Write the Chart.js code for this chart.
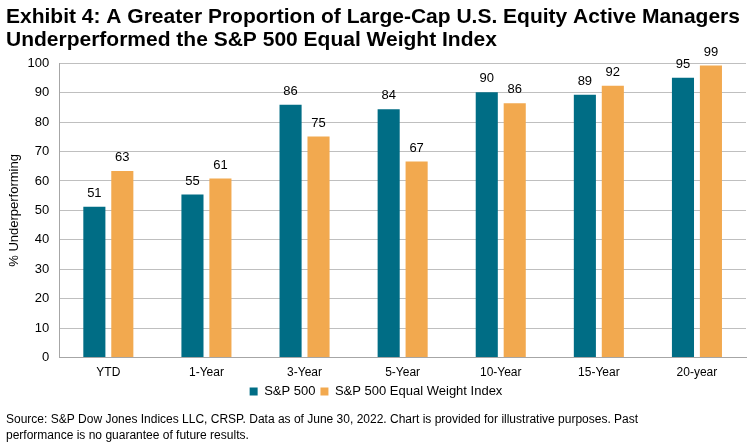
<!DOCTYPE html>
<html>
<head>
<meta charset="utf-8">
<script src="https://cdn.jsdelivr.net/npm/chart.js@4.4.0/dist/chart.umd.min.js"></script>
<style>
  html, body { margin: 0; padding: 0; background: #fff; }
  #wrap { width: 752px; height: 447px; position: relative; }
</style>
</head>
<body>
<div id="wrap"><canvas id="myChart" width="752" height="447"></canvas></div>
<script>
'use strict';

const periods = ['YTD', '1-Year', '3-Year', '5-Year', '10-Year', '15-Year', '20-year'];
const spxValues = [51.2, 55.4, 85.9, 84.4, 90.1, 89.3, 95.1];
const equalWeightValues = [63.4, 60.8, 75.1, 66.6, 86.4, 92.3, 99.2];
const yTicks = [0, 10, 20, 30, 40, 50, 60, 70, 80, 90, 100];

const titleLines = ['Exhibit 4: A Greater Proportion of Large-Cap U.S. Equity Active Managers',
  'Underperformed the S&P 500 Equal Weight Index'];
const sourceLines = ['Source: S&P Dow Jones Indices LLC, CRSP. Data as of June 30, 2022. Chart is provided for illustrative purposes. Past',
  'performance is no guarantee of future results.'];

// draw the rounded value over each bar
const barLabels = {
  id: 'barLabels',
  afterDatasetsDraw(chart) {
    const ctx = chart.ctx;
    ctx.save();
    ctx.font = '13px "Liberation Sans", Arial, sans-serif';
    ctx.fillStyle = '#000';
    ctx.textAlign = 'center';
    ctx.textBaseline = 'bottom';
    chart.data.datasets.forEach((ds, i) => {
      chart.getDatasetMeta(i).data.forEach((bar, j) => {
        ctx.fillText(Math.round(ds.data[j]), bar.x, bar.y - 7);
      });
    });
    ctx.restore();
  }
};

// source note at the bottom of the picture
const sourceNote = {
  id: 'sourceNote',
  afterDraw(chart) {
    const ctx = chart.ctx;
    ctx.save();
    ctx.font = '12px "Liberation Sans Narrow", "Arial Narrow", sans-serif';
    ctx.fillStyle = '#000';
    ctx.textAlign = 'left';
    ctx.textBaseline = 'alphabetic';
    ctx.fillText(sourceLines[0], 6, 423);
    ctx.fillText(sourceLines[1], 6, 439);
    ctx.restore();
  }
};

const data = {
  labels: periods,
  datasets: [
    {
      label: 'S&P 500',
      data: spxValues,
      backgroundColor: '#006D85',
      categoryPercentage: 0.57,
      barPercentage: 0.79
    },
    {
      label: 'S&P 500 Equal Weight Index',
      data: equalWeightValues,
      backgroundColor: '#F2A94F',
      categoryPercentage: 0.57,
      barPercentage: 0.79
    }
  ]
};

const config = {
  type: 'bar',
  data: data,
  options: {
    responsive: false,
    animation: false,
    layout: { padding: { left: 6, right: 6, top: 0, bottom: 39 } },
    plugins: {
      title: {
        display: true,
        text: titleLines,
        align: 'start',
        color: '#000',
        font: { family: '"Liberation Sans", Arial, sans-serif', size: 21, weight: 'bold', lineHeight: 1.1 },
        padding: { top: 6, bottom: 11 }
      },
      legend: {
        position: 'bottom',
        labels: {
          boxWidth: 8,
          boxHeight: 8,
          color: '#000',
          padding: 5,
          font: { family: '"Liberation Sans", Arial, sans-serif', size: 13 }
        }
      },
      tooltip: { enabled: false }
    },
    scales: {
      x: {
        grid: { display: false },
        border: { color: '#A6A6A6' },
        ticks: { color: '#000', font: { family: '"Liberation Sans", Arial, sans-serif', size: 12 }, padding: 0 }
      },
      y: {
        min: 0,
        max: 100,
        afterBuildTicks(axis) { axis.ticks = yTicks.map(v => ({ value: v })); },
        grid: { color: '#BFBFBF', drawTicks: false },
        border: { color: '#A6A6A6' },
        ticks: { color: '#000', padding: 10, font: { family: '"Liberation Sans", Arial, sans-serif', size: 13 } },
        title: {
          display: true,
          text: '% Underperforming',
          color: '#000',
          font: { family: '"Liberation Sans", Arial, sans-serif', size: 13 },
          padding: { top: 1, bottom: -5 }
        }
      }
    }
  },
  plugins: [barLabels, sourceNote]
};

const canvasChart = document.getElementById('myChart');
const myChart = new Chart(canvasChart, config);
</script>
</body>
</html>
